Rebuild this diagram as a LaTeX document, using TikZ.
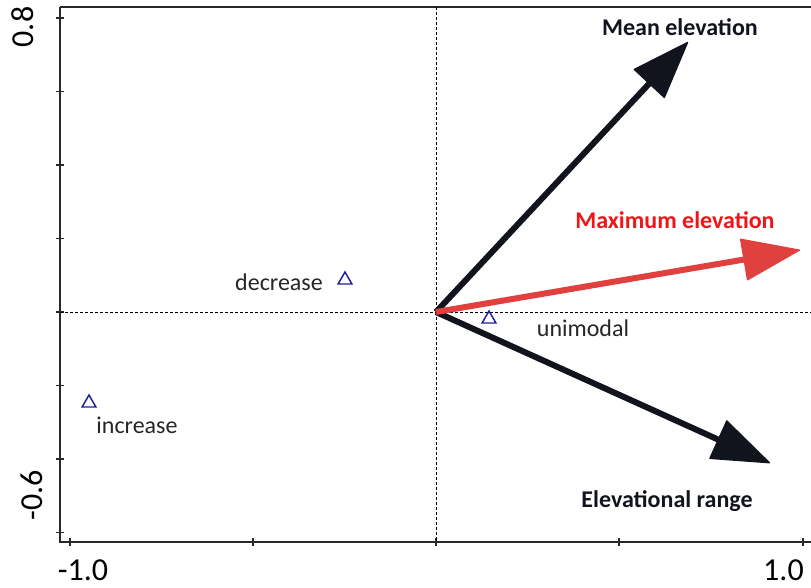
\documentclass[tikz,border=0pt]{standalone}
\usepackage{fontspec}
\setmainfont{Carlito}
\usetikzlibrary{arrows.meta,shapes.geometric}

\definecolor{vecdark}{RGB}{17,20,28}
\definecolor{vecred}{RGB}{224,64,62}
\definecolor{labred}{RGB}{238,22,22}
\definecolor{marknavy}{RGB}{30,30,150}
\definecolor{axisgray}{RGB}{40,40,40}

\tikzset{
  axisline/.style={color=axisgray,line width=1.1pt},
  zeroline/.style={color=black,line width=0.75pt,dash pattern=on 2.25pt off 1.5pt},
  vec/.style={line width=4.5pt,-{Triangle[length=44pt,width=32pt,line width=1pt,round]}},
  vlabel/.style={inner sep=0pt,anchor=base,font=\bfseries\fontsize{18}{21}\selectfont},
  plabel/.style={inner sep=0pt,anchor=base,color=black!85,font=\fontsize{18}{21}\selectfont},
  ticklabel/.style={inner sep=0pt,anchor=base,font=\fontsize{24}{27}\selectfont},
  marker/.style={regular polygon,regular polygon sides=3,draw=marknavy,line width=1.1pt,inner sep=0pt,minimum size=12pt}
}

\begin{document}
\begin{tikzpicture}[x=0.75pt,y=0.75pt,yscale=-1,xscale=1]
\useasboundingbox (0,0) rectangle (811,587);

%Frame
\draw [axisline] (60,7) -- (811,7);
\draw [axisline] (60,7) -- (60,542) -- (811,542);
\foreach \ty in {18,91.5,165,238.5,312,385.5,459,532.5}
  \draw [axisline] (56,\ty) -- (64,\ty);
\foreach \tx in {70,253,436,619,803}
  \draw [axisline] (\tx,538) -- (\tx,546);

%Zero lines
\draw [zeroline] (60,312) -- (811,312);
\draw [zeroline] (436,7) -- (436,542);

%Vectors
\coordinate (O) at (436,312);
\coordinate (meanTip) at (688,42);
\coordinate (maxTip) at (800,250);
\coordinate (rangeTip) at (770,463);
\draw [vec,color=vecdark] (O) -- (meanTip);
\draw [vec,color=vecdark] (O) -- (rangeTip);
\draw [vec,color=vecred] (O) -- (maxTip);

% Text Node
\node [vlabel,color=vecdark] (meanLab) at (680,35) {Mean elevation};
% Text Node
\node [vlabel,color=labred] (maxLab) at (675,228) {Maximum elevation};
% Text Node
\node [vlabel,color=vecdark] (rangeLab) at (667,507) {Elevational range};

%Shape: Triangle
\node [marker] (decMark) at (345,280) {};
\node [marker] (uniMark) at (489,319) {};
\node [marker] (incMark) at (89,403) {};

% Text Node
\node [plabel] (decLab) at (279,290) {decrease};
% Text Node
\node [plabel] (uniLab) at (583,336) {unimodal};
% Text Node
\node [plabel] (incLab) at (137,433) {increase};

% Axis labels
\node [ticklabel,rotate=90] (yTop) at (33,27) {0.8};
\node [ticklabel,rotate=90] (yBot) at (42,495) {-0.6};
\node [ticklabel] (xLeft) at (83,580) {-1.0};
\node [ticklabel,anchor=base east] (xRight) at (804,580) {1.0};

\end{tikzpicture}
\end{document}
